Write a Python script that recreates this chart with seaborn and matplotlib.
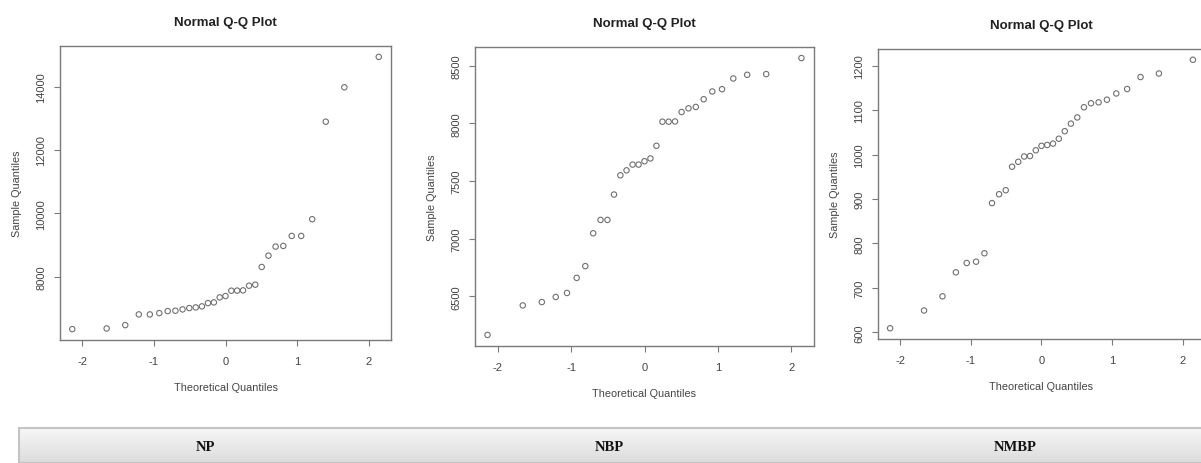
import numpy as np
import pandas as pd
import matplotlib
matplotlib.use("Agg")
import matplotlib.pyplot as plt
import seaborn as sns
from statistics import NormalDist

np_values = [6345, 6366, 6471, 6809, 6809, 6851, 6914, 6925, 6967, 7009, 7030,
             7062, 7167, 7188, 7346, 7389, 7557, 7560, 7568, 7715, 7747, 8306,
             8664, 8949, 8970, 9286, 9286, 9813, 12891, 13977, 14936]
nbp_values = [6165, 6421, 6450, 6494, 6529, 6660, 6762, 7047, 7163, 7163, 7383,
              7550, 7593, 7643, 7643, 7672, 7696, 7806, 8015, 8015, 8017, 8099,
              8131, 8143, 8210, 8277, 8297, 8390, 8422, 8428, 8567]
nmbp_values = [609, 649, 681, 735, 756, 759, 778, 891, 911, 920, 973, 984, 996,
               997, 1010, 1020, 1022, 1025, 1036, 1053, 1070, 1084, 1107, 1116,
               1118, 1124, 1138, 1148, 1175, 1183, 1214]

series_names = ["NP", "NBP", "NMBP"]
titles = ["Normal Q-Q Plot", "Normal Q-Q Plot", "Normal Q-Q Plot"]
xticks = [-2, -1, 0, 1, 2]
yticks_list = [[8000, 10000, 12000, 14000],
               [6500, 7000, 7500, 8000, 8500],
               [600, 700, 800, 900, 1000, 1100, 1200]]


def qq_frame(values):
    v = np.sort(np.asarray(values, dtype=float))
    n = len(v)
    a = 0.5 if n > 10 else 3 / 8
    nd = NormalDist()
    theo = [nd.inv_cdf((i - a) / (n + 1 - 2 * a)) for i in range(1, n + 1)]
    return pd.DataFrame({"Theoretical Quantiles": theo, "Sample Quantiles": v})


sns.set_theme(style="white")
plt.rcParams["font.family"] = ["Liberation Sans", "DejaVu Sans"]

W, H = 1201, 464
fig = plt.figure(figsize=(W / 100, H / 100), dpi=100)

# axes boxes in pixels: left, top, right, bottom
boxes = [(60, 47, 391, 341), (475, 48, 814, 347), (878, 50, 1205, 340)]

spine_col = "#7a7a7a"
text_col = "#444444"

for vals, box, yt, ttl in zip([np_values, nbp_values, nmbp_values], boxes, yticks_list, titles):
    l, t, r, b = box
    ax = fig.add_axes([l / W, 1 - b / H, (r - l) / W, (b - t) / H])
    df = qq_frame(vals)
    sns.scatterplot(data=df, x="Theoretical Quantiles", y="Sample Quantiles", ax=ax,
                    marker="o", s=15, facecolor="none", edgecolor="#707070",
                    linewidth=0.8, legend=False)
    ax.margins(x=0.04, y=0.04)
    ax.set_xticks(xticks)
    ax.set_yticks(yt)
    ax.set_xticklabels([str(x) for x in xticks])
    ax.set_yticklabels([str(y) for y in yt], rotation=90, va="center")
    for s in ax.spines.values():
        s.set_visible(True)
        s.set_color(spine_col)
        s.set_linewidth(1.0)
    ax.tick_params(axis="both", which="major", direction="out", length=4, width=0.8,
                   color=spine_col, labelsize=8, labelcolor=text_col, bottom=True, left=True)
    ax.tick_params(axis="x", pad=7.5)
    ax.tick_params(axis="y", pad=6)
    ax.set_xlabel("Theoretical Quantiles", fontsize=7.8, color=text_col, labelpad=11.5)
    ax.set_ylabel("Sample Quantiles", fontsize=7.8, color=text_col, labelpad=10.5)
    ax.set_title(ttl, fontsize=9.5, fontweight="bold", color="#222222", pad=15)

# bottom header strip with gradient
tab_left, tab_top = 19, 429
tax = fig.add_axes([tab_left / W, 0, 1 - tab_left / W + 0.01, (H - tab_top) / H])
grad = np.linspace(0, 1, 64).reshape(-1, 1)
cmap = matplotlib.colors.LinearSegmentedColormap.from_list("g", ["#f7f7f7", "#dcdcdc"])
tax.imshow(grad, aspect="auto", cmap=cmap, extent=[0, 1, 0, 1], origin="upper")
tax.set_xlim(0, 1)
tax.set_ylim(0, 1)
tax.set_xticks([])
tax.set_yticks([])
for s in tax.spines.values():
    s.set_color("#c4c4c4")
    s.set_linewidth(1.5)

header_x = [205, 609, 1015]
for name, hx in zip(series_names, header_x):
    fig.text(hx / W, 1 - 448 / H, name, ha="center", va="center",
             fontsize=10.5, fontweight="bold", family=["Liberation Serif", "DejaVu Serif"],
             color="#111111")

fig.savefig("out.png", dpi=100, facecolor="white")
